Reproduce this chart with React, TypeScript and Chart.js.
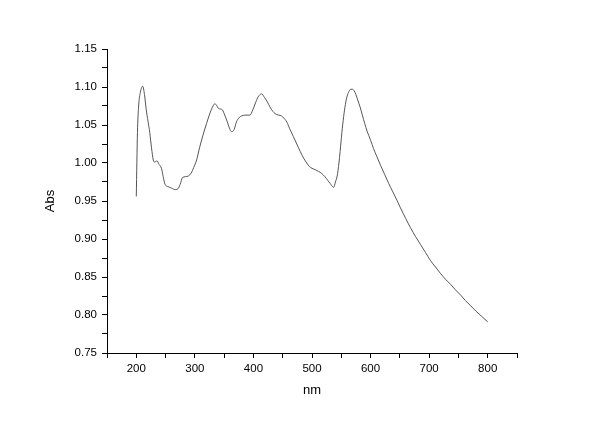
import React, { useEffect, useRef } from "react";
import { Chart, registerables } from "chart.js";

Chart.register(...registerables);

const wavelengths: number[] = [
  200, 202, 204, 207, 211, 214, 217, 220, 223, 226, 229, 232, 235, 239, 243, 246, 249, 254, 260, 266,
  271, 275, 279, 284, 289, 294, 298, 303, 308, 314, 320, 326, 331, 334, 337, 340, 344, 347, 351, 355,
  359, 363, 367, 371, 376, 380, 387, 394, 399, 404, 408, 414, 419, 424, 428, 433, 437, 443, 448, 452,
  457, 462, 468, 474, 480, 486, 491, 496, 500, 506, 511, 517, 522, 527, 531, 534, 537, 540, 543, 546,
  548, 551, 554, 557, 560, 563, 566, 569, 572, 575, 578, 582, 586, 590, 594, 600, 605, 611, 617, 624,
  631, 638, 645, 651, 660, 668, 677, 685, 694, 702, 711, 719, 728, 737, 745, 754, 762, 771, 780, 790,
  800,
];

const absorbance: number[] = [
  0.956, 1.04, 1.075, 1.093, 1.101, 1.09, 1.07, 1.055, 1.04, 1.02, 1.004, 1.001, 1.003, 0.998, 0.993, 0.982, 0.972, 0.969, 0.967, 0.965,
  0.966, 0.972, 0.981, 0.982, 0.983, 0.987, 0.994, 1.004, 1.02, 1.037, 1.052, 1.066, 1.075, 1.078, 1.076, 1.072, 1.071, 1.07, 1.063, 1.055,
  1.046, 1.041, 1.044, 1.054, 1.06, 1.062, 1.063, 1.063, 1.07, 1.08, 1.087, 1.091, 1.086, 1.08, 1.074, 1.068, 1.065, 1.063, 1.062, 1.059,
  1.054, 1.045, 1.035, 1.025, 1.015, 1.006, 1.0, 0.995, 0.993, 0.991, 0.989, 0.986, 0.982, 0.977, 0.973, 0.97, 0.968, 0.975, 0.983, 1.0,
  1.015, 1.04, 1.061, 1.077, 1.088, 1.094, 1.097, 1.097, 1.095, 1.09, 1.083, 1.074, 1.063, 1.052, 1.042, 1.03, 1.019, 1.008, 0.997, 0.985,
  0.973, 0.962, 0.951, 0.941, 0.927, 0.915, 0.903, 0.893, 0.882, 0.872, 0.863, 0.855, 0.847, 0.84, 0.833, 0.826, 0.819, 0.812, 0.805, 0.798,
  0.791,
];

const xMin = 150;
const xMax = 850;
const yMin = 0.75;
const yMax = 1.15;
const xLabelValues: number[] = [200, 300, 400, 500, 600, 700, 800];
const xTitle = "nm";
const yTitle = "Abs";

export default function App() {
  const ref = useRef<HTMLCanvasElement | null>(null);

  useEffect(() => {
    if (!ref.current) return;
    const tickFont = { family: "'Liberation Sans', Arial, sans-serif", size: 11.5 };
    const titleFont = { family: "'Liberation Sans', Arial, sans-serif", size: 13 };
    const chart = new Chart(ref.current, {
      type: "line",
      data: {
        datasets: [
          {
            data: wavelengths.map((w, i) => ({ x: w, y: absorbance[i] })),
            borderColor: "rgb(85,85,85)",
            borderWidth: 1,
            pointRadius: 0,
            cubicInterpolationMode: "monotone",
            fill: false,
          },
        ],
      },
      options: {
        animation: false,
        responsive: true,
        maintainAspectRatio: false,
        layout: { padding: { left: 0, top: 49, right: 83, bottom: 0 } },
        plugins: { legend: { display: false }, tooltip: { enabled: false } },
        scales: {
          x: {
            type: "linear",
            min: xMin,
            max: xMax,
            afterFit: (s: any) => {
              s.height = 70;
            },
            grid: { drawOnChartArea: false, drawTicks: true, tickLength: 5, color: "#000" },
            border: { display: true, color: "#000", width: 1 },
            ticks: {
              stepSize: 50,
              autoSkip: false,
              maxRotation: 0,
              padding: 4,
              color: "#000",
              font: tickFont,
              callback: (v: any) => (xLabelValues.includes(Math.round(Number(v))) ? String(Math.round(Number(v))) : ""),
            },
            title: { display: true, text: xTitle, color: "#000", font: titleFont, padding: { top: 0, bottom: 25 } },
          },
          y: {
            min: yMin,
            max: yMax,
            afterFit: (s: any) => {
              s.width = 107;
            },
            grid: { drawOnChartArea: false, drawTicks: true, tickLength: 5, color: "#000" },
            border: { display: true, color: "#000", width: 1 },
            ticks: {
              stepSize: 0.025,
              autoSkip: false,
              padding: 5,
              color: "#000",
              font: tickFont,
              callback: (v: any) => {
                const n = Math.round(Number(v) * 1000);
                return n % 50 === 0 ? (n / 1000).toFixed(2) : "";
              },
            },
            title: { display: true, text: yTitle, color: "#000", font: titleFont, padding: { top: 43, bottom: 0 } },
          },
        },
      },
    });
    return () => chart.destroy();
  }, []);

  return (
    <div style={{ position: "fixed", left: 0, top: 0, width: 600, height: 423, background: "#fff" }}>
      <canvas ref={ref} />
    </div>
  );
}
